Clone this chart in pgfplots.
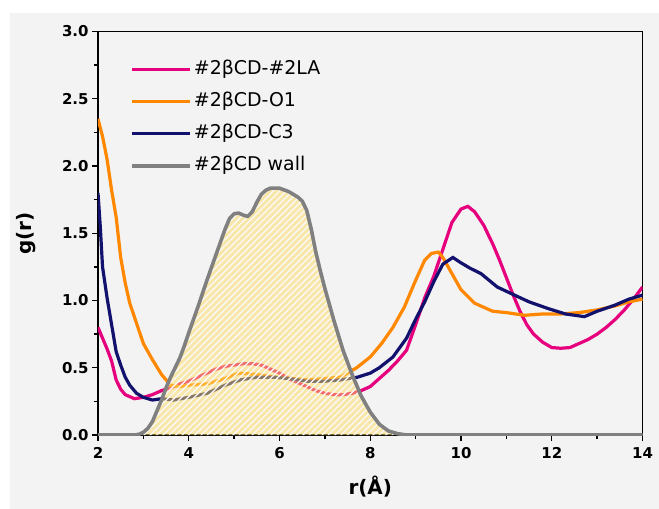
\documentclass[border=0pt]{standalone}
\usepackage{fontspec}
\setmainfont{DejaVu Sans}
\usepackage{pgfplots}
\pgfplotsset{compat=1.18}
\usetikzlibrary{patterns.meta}
\definecolor{panel}{RGB}{243,243,243}
\definecolor{cpink}{RGB}{230,0,126}
\definecolor{corange}{RGB}{255,136,0}
\definecolor{cnavy}{RGB}{18,18,110}
\definecolor{cgray}{RGB}{128,128,128}
\definecolor{cyel}{RGB}{255,221,96}
\begin{document}
\begin{tikzpicture}
\fill[white] (-98bp,-74bp) rectangle (561bp,435bp);
\fill[panel] (-88bp,-74bp) rectangle (561bp,422bp);
\begin{axis}[
  at={(0,0)}, anchor=south west,
  scale only axis, width=544.5bp, height=403.5bp,
  xmin=2, xmax=14, ymin=0, ymax=3,
  axis line style={line width=1.4bp, black},
  xtick={2,4,...,14}, minor xtick={3,5,...,13},
  ytick={0,0.5,...,3}, minor ytick={0.25,0.75,...,2.75},
  xtick pos=bottom, ytick pos=left, tick align=outside,
  major tick length=6bp, minor tick length=4bp,
  every tick/.style={black, line width=1.4bp},
  /pgf/number format/assume math mode=true,
  ticklabel style={font=\bfseries\fontsize{15}{15}\selectfont},
  xticklabel style={yshift=-3bp},
  yticklabel style={/pgf/number format/.cd, fixed, fixed zerofill, precision=1},
  label style={font=\bfseries\fontsize{20}{20}\selectfont},
  xlabel={r(Å)},
  xlabel style={at={(axis description cs:0.5,-0.129)}, anchor=center},
  ylabel={g(r)},
  ylabel style={at={(axis description cs:-0.132,0.5)}, anchor=center},
  legend style={at={(axis description cs:0.059,0.933)}, anchor=north west,
    draw=none, fill=none, inner sep=0pt, row sep=10bp,
    font=\fontsize{19}{19}\selectfont,
    nodes={inner sep=2bp, text height=14bp, text depth=4bp}},
  legend cell align=left,
  legend image code/.code={\draw[#1] (0bp,0bp) -- (58bp,0bp);},
]
\addplot[cpink, line width=3.2bp] coordinates {
(2.0,0.80)(2.1,0.72)(2.2,0.64)(2.3,0.55)(2.4,0.41)(2.5,0.34)(2.6,0.30)(2.8,0.27)
(3.0,0.28)(3.2,0.30)(3.4,0.33)(3.6,0.35)(3.8,0.38)(4.0,0.40)(4.2,0.43)(4.4,0.46)
(4.6,0.49)(4.8,0.51)(5.0,0.52)(5.2,0.53)(5.4,0.53)(5.6,0.52)(5.8,0.49)(6.0,0.46)
(6.2,0.42)(6.4,0.39)(6.6,0.36)(6.8,0.33)(7.0,0.31)(7.2,0.30)(7.4,0.30)(7.6,0.31)
(7.8,0.33)(8.0,0.36)(8.2,0.42)(8.4,0.48)(8.6,0.55)(8.8,0.63)(9.0,0.82)(9.2,1.02)
(9.4,1.18)(9.6,1.38)(9.8,1.58)(10.0,1.68)(10.15,1.70)(10.3,1.66)(10.5,1.56)(10.7,1.42)
(10.85,1.30)(11.0,1.17)(11.15,1.04)(11.3,0.92)(11.45,0.82)(11.6,0.75)(11.8,0.69)(12.0,0.65)
(12.2,0.645)(12.4,0.65)(12.6,0.68)(12.8,0.71)(13.0,0.75)(13.2,0.80)(13.4,0.86)(13.6,0.93)
(13.8,1.01)(14.0,1.10)};
\addlegendentry{\#2βCD-\#2LA}
\addplot[corange, line width=3.2bp] coordinates {
(2.0,2.35)(2.1,2.22)(2.2,2.05)(2.3,1.82)(2.4,1.62)(2.5,1.32)(2.6,1.13)(2.7,0.98)
(2.8,0.88)(2.9,0.78)(3.0,0.68)(3.2,0.56)(3.4,0.45)(3.6,0.37)(3.8,0.36)(4.0,0.37)
(4.4,0.38)(4.8,0.42)(5.1,0.46)(5.5,0.45)(5.9,0.43)(6.3,0.42)(6.6,0.41)(7.0,0.42)
(7.35,0.43)(7.7,0.50)(8.0,0.58)(8.25,0.68)(8.5,0.80)(8.75,0.95)(9.0,1.15)(9.2,1.30)
(9.35,1.35)(9.5,1.36)(9.6,1.32)(9.8,1.20)(10.0,1.08)(10.3,0.98)(10.7,0.92)(11.0,0.91)
(11.4,0.89)(11.8,0.90)(12.2,0.90)(12.6,0.91)(13.0,0.93)(13.4,0.96)(13.7,0.99)(14.0,1.01)};
\addlegendentry{\#2βCD-O1}
\addplot[cnavy, line width=3.2bp] coordinates {
(2.0,1.80)(2.05,1.55)(2.1,1.25)(2.2,1.02)(2.3,0.82)(2.4,0.62)(2.5,0.52)(2.6,0.43)
(2.7,0.37)(2.85,0.31)(3.0,0.28)(3.2,0.26)(3.4,0.27)(3.66,0.26)(4.0,0.28)(4.4,0.31)
(4.8,0.37)(5.14,0.41)(5.5,0.43)(5.87,0.43)(6.2,0.42)(6.6,0.40)(7.0,0.40)(7.35,0.41)
(7.72,0.43)(8.0,0.46)(8.2,0.50)(8.5,0.58)(8.8,0.72)(9.0,0.86)(9.2,0.99)(9.4,1.14)
(9.6,1.27)(9.82,1.32)(10.0,1.28)(10.2,1.24)(10.44,1.20)(10.8,1.10)(11.18,1.04)(11.5,0.99)
(11.92,0.94)(12.3,0.90)(12.72,0.88)(13.0,0.92)(13.39,0.965)(13.7,1.01)(14.0,1.04)};
\addlegendentry{\#2βCD-C3}
\pgfplotstableread{
x y
2.0 0
2.8 0
2.9 0.005
3.0 0.02
3.1 0.05
3.2 0.10
3.3 0.18
3.4 0.26
3.5 0.35
3.6 0.43
3.7 0.50
3.8 0.57
3.9 0.66
4.0 0.76
4.2 0.95
4.4 1.15
4.6 1.34
4.8 1.53
4.9 1.61
5.0 1.645
5.1 1.65
5.2 1.635
5.3 1.625
5.4 1.66
5.5 1.73
5.6 1.79
5.7 1.82
5.8 1.835
6.0 1.835
6.2 1.81
6.4 1.77
6.5 1.74
6.6 1.67
6.7 1.53
6.8 1.36
6.9 1.22
7.0 1.09
7.2 0.85
7.4 0.63
7.6 0.45
7.8 0.29
8.0 0.17
8.2 0.08
8.4 0.03
8.6 0.01
8.8 0
14.0 0
}\walltable
\addplot[draw=none, fill=cyel, fill opacity=0.5, forget plot] table {\walltable} \closedcycle;
\addplot[draw=none, pattern={Lines[angle=45,distance=4.5bp,line width=1.3bp]}, pattern color=panel!50!white, forget plot] table {\walltable} \closedcycle;
\addplot[cgray, line width=3.6bp, line join=round] table {\walltable};
\addlegendentry{\#2βCD wall}
\end{axis}
\end{tikzpicture}
\end{document}
